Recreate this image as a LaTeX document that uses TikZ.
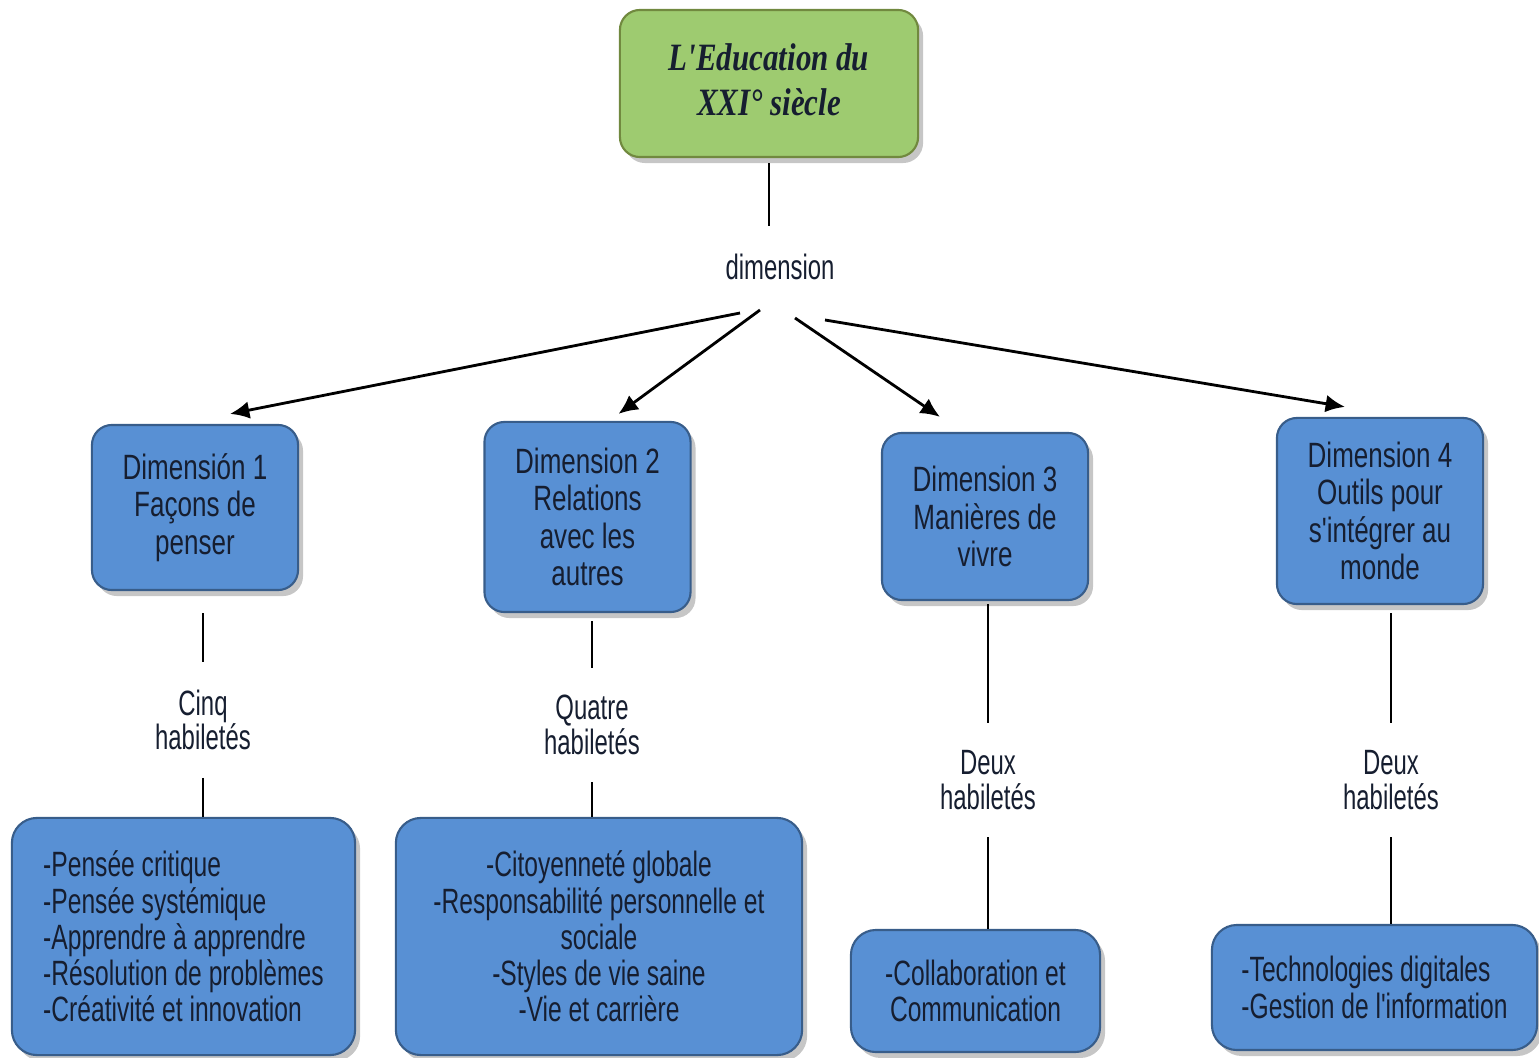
\documentclass[tikz,border=0pt]{standalone}
\usepackage{fontspec}
\newfontfamily\boxfont[FakeStretch=0.74]{Liberation Sans}
\newfontfamily\skillfont[FakeStretch=0.70]{Liberation Sans}
\newfontfamily\labelfont[FakeStretch=0.68]{Liberation Sans}
\newfontfamily\titlefont[FakeStretch=0.8]{Liberation Serif}
\usetikzlibrary{arrows.meta,shadows}

\definecolor{boxblue}{RGB}{88,144,212}
\definecolor{boxblueedge}{RGB}{56,93,138}
\definecolor{titlegreen}{RGB}{158,203,112}
\definecolor{titlegreenedge}{RGB}{113,137,63}
\definecolor{inktext}{RGB}{22,30,48}

\begin{document}
\begin{tikzpicture}[
  x=0.01cm, y=-0.01cm,
  shadowbox/.style={
    draw,
    line width=0.6pt,
    align=center,
    inner sep=2pt,
    text=inktext,
    drop shadow={shadow xshift=0.5mm, shadow yshift=-0.6mm, opacity=0.45}
  },
  titlebox/.style={
    shadowbox,
    fill=titlegreen,
    draw=titlegreenedge,
    rounded corners=0.2cm,
    minimum width=2.98cm,
    minimum height=1.47cm,
    font=\titlefont\bfseries\itshape\fontsize{11}{14.2}\selectfont
  },
  dimbox/.style={
    shadowbox,
    fill=boxblue,
    draw=boxblueedge,
    rounded corners=0.2cm,
    minimum width=2.06cm,
    font=\boxfont\fontsize{10}{10.6}\selectfont
  },
  skillbox/.style={
    shadowbox,
    fill=boxblue,
    draw=boxblueedge,
    rounded corners=0.25cm,
    font=\skillfont\fontsize{10}{10.3}\selectfont
  },
  linklabel/.style={
    align=center,
    inner sep=0.27cm,
    text=inktext,
    font=\labelfont\fontsize{10}{9.8}\selectfont
  },
  link/.style={line width=0.8pt},
  arrowlink/.style={line width=0.8pt, -{Latex[length=5.5pt,width=5pt]}}
]
\useasboundingbox (0,0) rectangle (1539,1058);

% top concept
\node[titlebox] (top) at (769,83.5) {\raisebox{0.07cm}{\shortstack{L'Education du\\[2pt]XXI° siècle}}};
\node[linklabel] (dim) at (780,267) {dimension};

% the four dimensions
\node[dimbox, minimum height=1.65cm] (d1) at (195,507.5) {Dimensión 1\\Façons de\\penser};
\node[dimbox, minimum height=1.90cm] (d2) at (587.5,517) {Dimension 2\\Relations\\avec les\\autres};
\node[dimbox, minimum height=1.67cm] (d3) at (985,516.5) {Dimension 3\\Manières de\\vivre};
\node[dimbox, minimum height=1.86cm] (d4) at (1380,511) {Dimension 4\\Outils pour\\s'intégrer au\\monde};

% link labels
\node[linklabel] (l1) at (203,720) {Cinq\\habiletés};
\node[linklabel] (l2) at (592,725) {Quatre\\habiletés};
\node[linklabel] (l3) at (988,780) {Deux\\habiletés};
\node[linklabel] (l4) at (1391,780) {Deux\\habiletés};

% skills
\node[skillbox, minimum width=3.43cm, minimum height=2.37cm, align=left] (b1) at (183.5,936.5)
  {-Pensée critique\\-Pensée systémique\\-Apprendre à apprendre\\-Résolution de problèmes\\-Créativité et innovation};
\node[skillbox, minimum width=4.06cm, minimum height=2.37cm] (b2) at (599,936.5)
  {-Citoyenneté globale\\-Responsabilité personnelle et\\sociale\\-Styles de vie saine\\-Vie et carrière};
\node[skillbox, minimum width=2.49cm, minimum height=1.22cm] (b3) at (975.5,991)
  {-Collaboration et\\Communication};
\node[skillbox, minimum width=3.25cm, minimum height=1.25cm, align=left] (b4) at (1374.5,987.5)
  {-Technologies digitales\\-Gestion de l'information};

% connectors
\draw[link, shorten <=0.05cm] (top.south) -- (top.south |- dim.north);

\coordinate (s1) at (740,313);
\coordinate (s2) at (760,310);
\coordinate (s3) at (795,318);
\coordinate (s4) at (825,320);
\draw[arrowlink] (s1) -- ([xshift=0.35cm,yshift=0.1cm]d1.north);
\draw[arrowlink] (s2) -- ([xshift=0.31cm,yshift=0.07cm]d2.north);
\draw[arrowlink] (s3) -- ([xshift=-0.45cm,yshift=0.15cm]d3.north);
\draw[arrowlink] (s4) -- ([xshift=-0.35cm,yshift=0.1cm]d4.north);

\draw[link, shorten <=0.22cm] (l1 |- d1.south) -- (l1.north);
\draw[link, shorten <=0.08cm] (l2 |- d2.south) -- (l2.north);
\draw[link, shorten <=0.03cm] (l3 |- d3.south) -- (l3.north);
\draw[link, shorten <=0.08cm] (l4 |- d4.south) -- (l4.north);

\draw[link] (l1.south) -- (l1 |- b1.north);
\draw[link] (l2.south) -- (l2 |- b2.north);
\draw[link] (l3.south) -- (l3 |- b3.north);
\draw[link] (l4.south) -- (l4 |- b4.north);

\end{tikzpicture}
\end{document}
